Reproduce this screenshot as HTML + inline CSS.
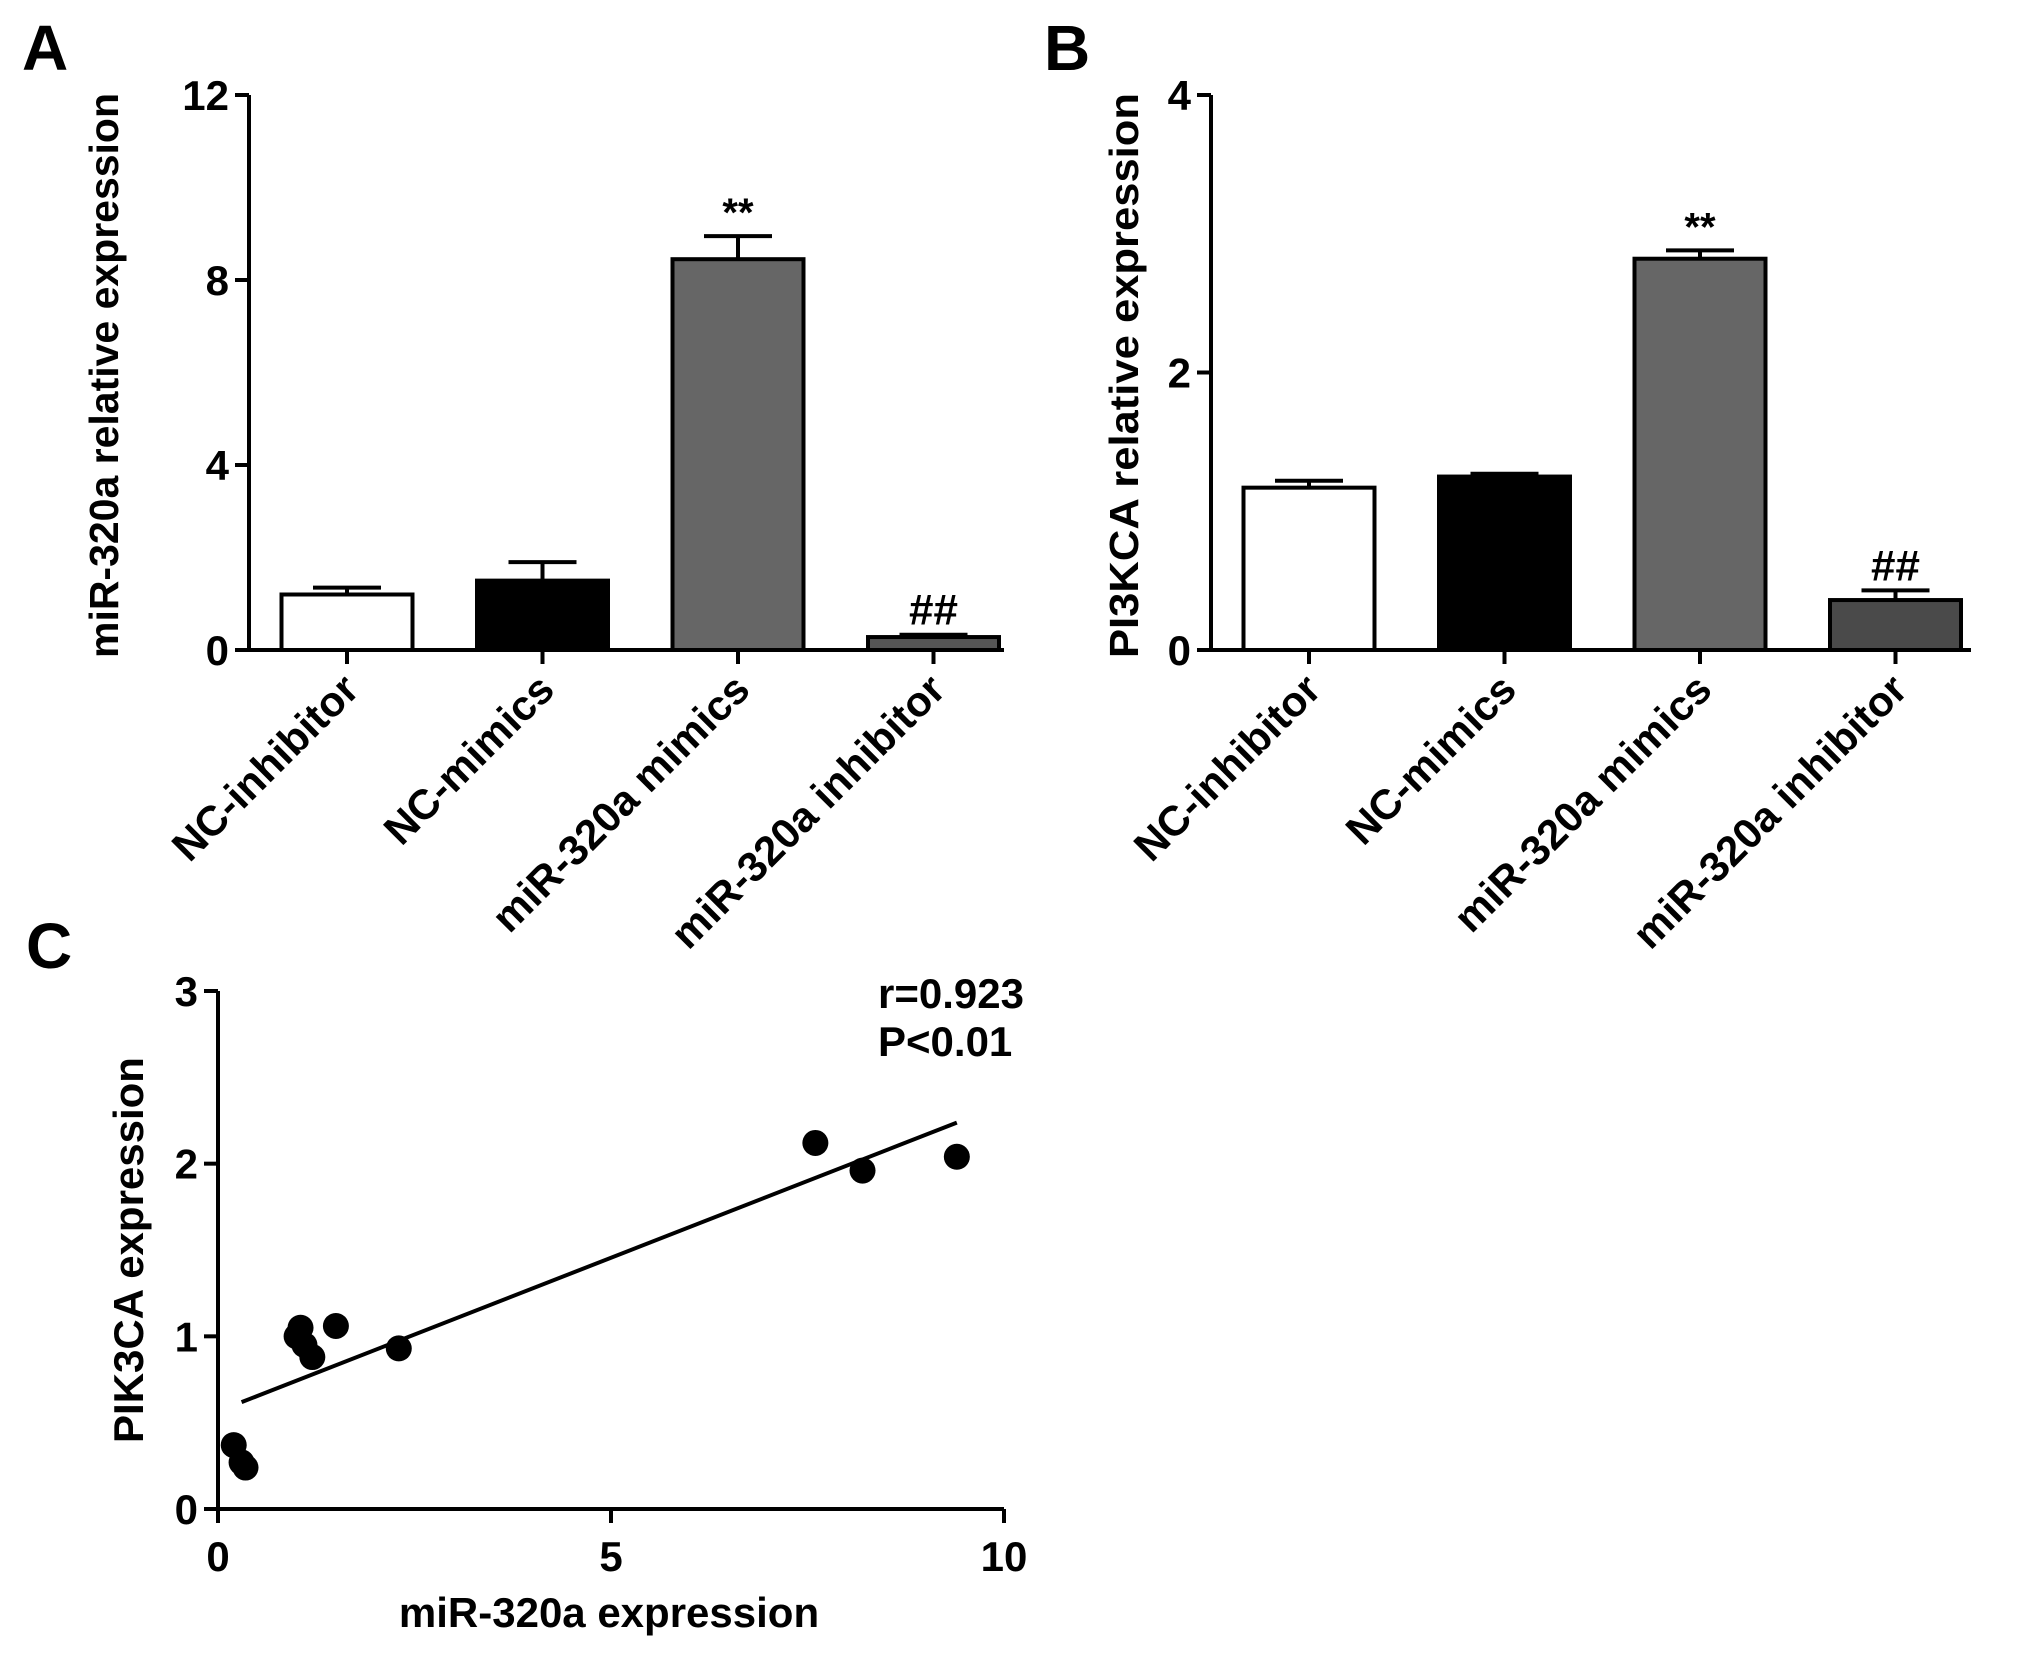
<!DOCTYPE html>
<html><head><meta charset="utf-8"><style>
html,body{margin:0;padding:0;background:#fff}
svg{display:block;font-family:"Liberation Sans",Arial,sans-serif;font-weight:bold}
</style></head><body>
<svg id="fig" width="2031" height="1655" viewBox="0 0 2031 1655" xmlns="http://www.w3.org/2000/svg"></svg>
<script>
const categories = ["NC-inhibitor","NC-mimics","miR-320a mimics","miR-320a inhibitor"];
const aValues = [1.2, 1.5, 8.45, 0.28];
const aErrors = [0.15, 0.4, 0.5, 0.05];
const aTicks = [0, 4, 8, 12];
const aSig = ["", "", "**", "##"];
const bValues = [1.17, 1.25, 2.82, 0.36];
const bErrors = [0.05, 0.02, 0.06, 0.07];
const bTicks = [0, 2, 4];
const bSig = ["", "", "**", "##"];
const cX = [0.2, 0.3, 0.35, 1.0, 1.05, 1.1, 1.2, 1.5, 2.3, 7.6, 8.2, 9.4];
const cY = [0.37, 0.27, 0.24, 1.0, 1.05, 0.95, 0.88, 1.06, 0.93, 2.12, 1.96, 2.04];
const cXTicks = [0, 5, 10];
const cYTicks = [0, 1, 2, 3];

const NS="http://www.w3.org/2000/svg";
const svg=document.getElementById('fig');
function mk(tag,attrs,parent,text){const e=document.createElementNS(NS,tag);for(const k in attrs)e.setAttribute(k,attrs[k]);if(text!==undefined)e.textContent=text;(parent||svg).appendChild(e);return e;}

function barPanel(opt){
  const g=mk('g',{});
  
  
  const y=v=>opt.y0-(v/opt.max)*(opt.y0-opt.yTop);
  const bw=131, step=195.5;
  const cx=i=>opt.x0+98+i*step;
  opt.values.forEach((v,i)=>{
    const top=y(v+opt.errors[i]);
    const eb=mk('path',{d:`M${cx(i)} ${y(v)} V${top} M${cx(i)-34} ${top} H${cx(i)+34}`,stroke:'#000','stroke-width':4,fill:'none'},g);
    
    
    const r=mk('rect',{x:cx(i)-bw/2,y:y(v),width:bw,height:opt.y0-y(v),fill:opt.colors[i],stroke:'#000','stroke-width':4},g);
    
    
    if(opt.sig[i]){const s=mk('text',{x:cx(i),y:top-10,'text-anchor':'middle','font-size':opt.sig[i]==='**'?40:44},g,opt.sig[i]);
      
      }
    const tk=mk('line',{x1:cx(i),x2:cx(i),y1:opt.y0,y2:opt.y0+14,stroke:'#000','stroke-width':4},g);
    
    
    const lb=mk('text',{x:0,y:0,'text-anchor':'end','font-size':42,transform:`translate(${cx(i)+14},${opt.y0+42}) rotate(-45)`},g,categories[i]);
    
    
  });
  const ax=mk('path',{d:`M${opt.x0} ${opt.yTop} V${opt.y0} H${opt.xEnd}`,stroke:'#000','stroke-width':4,fill:'none'},g);
  
  
  opt.ticks.forEach(t=>{
    const l=mk('line',{x1:opt.x0-14,x2:opt.x0,y1:y(t),y2:y(t),stroke:'#000','stroke-width':4},g);
    
    
    const tx=mk('text',{x:opt.x0-20,y:y(t)+15,'text-anchor':'end','font-size':42},g,String(t));
    
    
  });
  const yt=mk('text',{x:0,y:0,'text-anchor':'middle','font-size':41,'font-weight':'bold',textLength:565,lengthAdjust:'spacingAndGlyphs',transform:`translate(${opt.titleX},${(opt.yTop+opt.y0)/2+3}) rotate(-90)`},g,opt.title);
  
  
  const L=mk('text',{x:opt.letterX,y:70,'font-size':64},g,opt.letter);
  
  
}
barPanel({name:'panel-a',x0:249,xEnd:1004,y0:650,yTop:95,max:12,values:aValues,errors:aErrors,ticks:aTicks,sig:aSig,
  colors:['#fff','#000','#666','#555'],title:'miR-320a relative expression',titleX:118,letter:'A',letterX:22});
barPanel({name:'panel-b',x0:1211,xEnd:1971,y0:650,yTop:95,max:4,values:bValues,errors:bErrors,ticks:bTicks,sig:bSig,
  colors:['#fff','#000','#666','#4a4a4a'],title:'PI3KCA relative expression',titleX:1138,letter:'B',letterX:1044});

(function(){
  const g=mk('g',{});
  
  
  const x0=218,x1=1004,y0=1509,yTop=991;
  const X=v=>x0+v/10*(x1-x0), Y=v=>y0-v/3*(y0-yTop);
  const ax=mk('path',{d:`M${x0} ${yTop} V${y0} H${x1}`,stroke:'#000','stroke-width':4,fill:'none'},g);
  
  
  cYTicks.forEach(t=>{
    const l=mk('line',{x1:x0-14,x2:x0,y1:Y(t),y2:Y(t),stroke:'#000','stroke-width':4},g);
    
    
    const tx=mk('text',{x:x0-20,y:Y(t)+15,'text-anchor':'end','font-size':42},g,String(t));
    
    
  });
  cXTicks.forEach(t=>{
    const l=mk('line',{x1:X(t),x2:X(t),y1:y0,y2:y0+14,stroke:'#000','stroke-width':4},g);
    
    
    const tx=mk('text',{x:X(t),y:y0+62,'text-anchor':'middle','font-size':42},g,String(t));
    
    
  });
  const n=cX.length, mx=cX.reduce((a,b)=>a+b)/n, my=cY.reduce((a,b)=>a+b)/n;
  let sxy=0,sxx=0;for(let i=0;i<n;i++){sxy+=(cX[i]-mx)*(cY[i]-my);sxx+=(cX[i]-mx)**2;}
  const sl=sxy/sxx, ic=my-sl*mx, xa=Math.min(...cX)+0.1, xb=Math.max(...cX);
  const ln=mk('line',{x1:X(xa),y1:Y(ic+sl*xa),x2:X(xb),y2:Y(ic+sl*xb),stroke:'#000','stroke-width':4},g);
  
  
  cX.forEach((v,i)=>{
    const c=mk('circle',{cx:X(v),cy:Y(cY[i]),r:13,fill:'#000'},g);
    
    
  });
  const r1=mk('text',{x:878,y:1008,'font-size':42},g,'r=0.923');
  
  
  const r2=mk('text',{x:878,y:1056,'font-size':42},g,'P<0.01');
  
  
  const xt=mk('text',{x:609,y:1627,'text-anchor':'middle','font-size':42},g,'miR-320a expression');
  
  
  const yt=mk('text',{x:0,y:0,'text-anchor':'middle','font-size':42,transform:`translate(143,1250) rotate(-90)`},g,'PIK3CA expression');
  
  
  const L=mk('text',{x:26,y:968,'font-size':64},g,'C');
  
  
})();
</script>
</body></html>
